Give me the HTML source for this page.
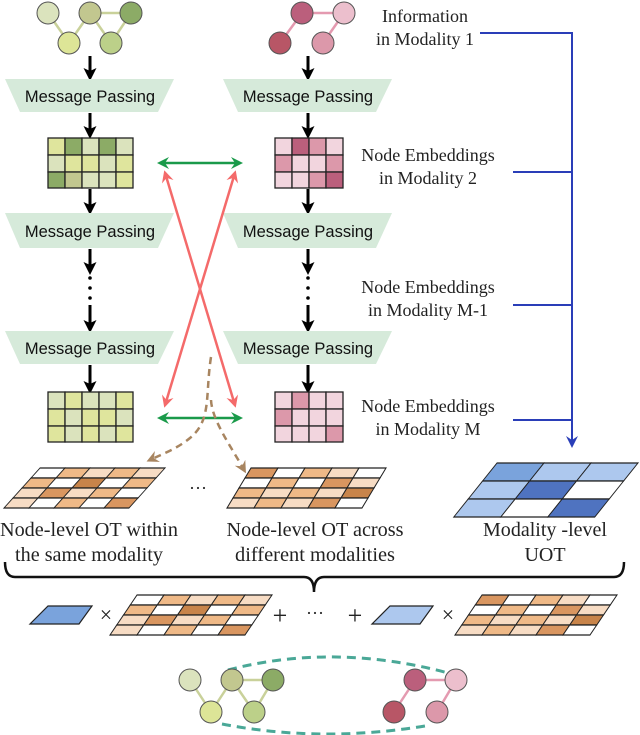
<!DOCTYPE html>
<html><head><meta charset="utf-8"><style>body{margin:0;background:#fff}svg{display:block}</style></head>
<body>
<svg width="640" height="735" viewBox="0 0 640 735" xmlns="http://www.w3.org/2000/svg">
<defs>
<marker id="ab" markerWidth="13" markerHeight="13" refX="6" refY="6.5" orient="auto" markerUnits="userSpaceOnUse" viewBox="0 0 13 13"><path d="M0,0 L13,6.5 L0,13 L3,6.5Z" fill="#000"/></marker>
<marker id="ag" markerWidth="12" markerHeight="12" refX="6" refY="6" orient="auto-start-reverse" markerUnits="userSpaceOnUse" viewBox="0 0 12 12"><path d="M0,0 L12,6 L0,12 L4,6Z" fill="#1a9a4a"/></marker>
<marker id="ar" markerWidth="12" markerHeight="12" refX="6" refY="6" orient="auto-start-reverse" markerUnits="userSpaceOnUse" viewBox="0 0 12 12"><path d="M0,0 L12,6 L0,12 L4,6Z" fill="#f46a6a"/></marker>
<marker id="abr" markerWidth="12" markerHeight="12" refX="6" refY="6" orient="auto" markerUnits="userSpaceOnUse" viewBox="0 0 12 12"><path d="M0,0 L12,6 L0,12 L4,6Z" fill="#a88560"/></marker>
<marker id="abl" markerWidth="12" markerHeight="12" refX="6" refY="6" orient="auto" markerUnits="userSpaceOnUse" viewBox="0 0 12 12"><path d="M0,0 L12,6 L0,12 L4,6Z" fill="#2a3eb8"/></marker>
</defs>

<g stroke-width="2.5">
<line x1="48" y1="13" x2="69" y2="43" stroke="#c9d19a"/><line x1="69" y1="43" x2="90" y2="13" stroke="#c9d19a"/>
<line x1="90" y1="13" x2="131" y2="13" stroke="#c9d19a"/><line x1="90" y1="13" x2="111" y2="43" stroke="#c9d19a"/><line x1="111" y1="43" x2="131" y2="13" stroke="#c9d19a"/>
<line x1="302" y1="13" x2="344" y2="13" stroke="#e49ab0"/><line x1="302" y1="13" x2="280" y2="43" stroke="#e49ab0"/><line x1="344" y1="13" x2="323" y2="43" stroke="#e49ab0"/>
</g>
<g stroke="#555" stroke-width="1">
<circle cx="48" cy="13" r="11" fill="#dbe3bd"/><circle cx="90" cy="13" r="11" fill="#c2c78f"/><circle cx="131" cy="13" r="11" fill="#8cab66"/>
<circle cx="69" cy="43" r="11" fill="#dde597"/><circle cx="111" cy="43" r="11" fill="#bcd089"/>
<circle cx="302" cy="13" r="11" fill="#bb5f7c"/><circle cx="344" cy="13" r="11" fill="#ecbfcd"/>
<circle cx="280" cy="43" r="11" fill="#b85666"/><circle cx="323" cy="43" r="11" fill="#dc98aa"/>
</g>

<g stroke="#000" stroke-width="3" marker-end="url(#ab)">
<line x1="90" y1="56" x2="90" y2="74"/><line x1="308" y1="56" x2="308" y2="74"/>
<line x1="90" y1="113" x2="90" y2="132"/><line x1="308" y1="113" x2="308" y2="132"/>
<line x1="90" y1="189" x2="90" y2="208"/><line x1="308" y1="189" x2="308" y2="208"/>
<line x1="90" y1="249" x2="90" y2="268"/><line x1="308" y1="249" x2="308" y2="268"/>
<line x1="90" y1="305" x2="90" y2="326"/><line x1="308" y1="305" x2="308" y2="326"/>
<line x1="90" y1="365" x2="90" y2="387"/><line x1="308" y1="365" x2="308" y2="387"/>
</g>
<g fill="#000"><circle cx="90" cy="278" r="1.8"/><circle cx="90" cy="288" r="1.8"/><circle cx="90" cy="298" r="1.8"/>
<circle cx="308" cy="278" r="1.8"/><circle cx="308" cy="288" r="1.8"/><circle cx="308" cy="298" r="1.8"/></g>

<g fill="#d6eada">
<polygon points="5,79 174,79 158,112 20,112"/><polygon points="223,79 392,79 376,112 238,112"/>
<polygon points="5,213 174,213 158,248 20,248"/><polygon points="223,213 392,213 376,248 238,248"/>
<polygon points="5,331 174,331 158,364 20,364"/><polygon points="223,331 392,331 376,364 238,364"/>
</g>
<g font-family="Liberation Sans, sans-serif" font-size="16.5" text-anchor="middle" fill="#111">
<text x="90" y="102">Message Passing</text><text x="308" y="102">Message Passing</text>
<text x="90" y="237">Message Passing</text><text x="308" y="237">Message Passing</text>
<text x="90" y="354">Message Passing</text><text x="308" y="354">Message Passing</text>
</g>

<g stroke="#222" stroke-width="1.3">
<g transform="translate(48,138)">
<rect x="0" y="0" width="17" height="17" fill="#dfe59d"/><rect x="17" y="0" width="17" height="17" fill="#8cab66"/><rect x="34" y="0" width="17" height="17" fill="#dbe3bd"/><rect x="51" y="0" width="17" height="17" fill="#8cab66"/><rect x="68" y="0" width="17" height="17" fill="#dbe3bd"/>
<rect x="0" y="17" width="17" height="17" fill="#dbe3bd"/><rect x="17" y="17" width="17" height="17" fill="#dfe59d"/><rect x="34" y="17" width="17" height="17" fill="#dfe59d"/><rect x="51" y="17" width="17" height="17" fill="#dbe3bd"/><rect x="68" y="17" width="17" height="17" fill="#dfe59d"/>
<rect x="0" y="34" width="17" height="16" fill="#8cab66"/><rect x="17" y="34" width="17" height="16" fill="#c2c78f"/><rect x="34" y="34" width="17" height="16" fill="#dbe3bd"/><rect x="51" y="34" width="17" height="16" fill="#dbe3bd"/><rect x="68" y="34" width="17" height="16" fill="#dfe59d"/>
</g>
<g transform="translate(48,392)">
<rect x="0" y="0" width="17" height="17" fill="#dbe3bd"/><rect x="17" y="0" width="17" height="17" fill="#dfe59d"/><rect x="34" y="0" width="17" height="17" fill="#dbe3bd"/><rect x="51" y="0" width="17" height="17" fill="#dbe3bd"/><rect x="68" y="0" width="17" height="17" fill="#dfe59d"/>
<rect x="0" y="17" width="17" height="17" fill="#dfe59d"/><rect x="17" y="17" width="17" height="17" fill="#dbe3bd"/><rect x="34" y="17" width="17" height="17" fill="#dfe59d"/><rect x="51" y="17" width="17" height="17" fill="#dfe59d"/><rect x="68" y="17" width="17" height="17" fill="#dbe3bd"/>
<rect x="0" y="34" width="17" height="16" fill="#dfe59d"/><rect x="17" y="34" width="17" height="16" fill="#dbe3bd"/><rect x="34" y="34" width="17" height="16" fill="#dfe59d"/><rect x="51" y="34" width="17" height="16" fill="#dbe3bd"/><rect x="68" y="34" width="17" height="16" fill="#dfe59d"/>
</g>
<g transform="translate(275,138)">
<rect x="0" y="0" width="17" height="17" fill="#f2d5de"/><rect x="17" y="0" width="17" height="17" fill="#bb5f7c"/><rect x="34" y="0" width="17" height="17" fill="#dc98aa"/><rect x="51" y="0" width="17" height="17" fill="#f2d5de"/>
<rect x="0" y="17" width="17" height="17" fill="#dc98aa"/><rect x="17" y="17" width="17" height="17" fill="#f2d5de"/><rect x="34" y="17" width="17" height="17" fill="#f2d5de"/><rect x="51" y="17" width="17" height="17" fill="#dc98aa"/>
<rect x="0" y="34" width="17" height="16" fill="#f2d5de"/><rect x="17" y="34" width="17" height="16" fill="#f2d5de"/><rect x="34" y="34" width="17" height="16" fill="#dc98aa"/><rect x="51" y="34" width="17" height="16" fill="#bb5f7c"/>
</g>
<g transform="translate(275,392)">
<rect x="0" y="0" width="17" height="17" fill="#f2d5de"/><rect x="17" y="0" width="17" height="17" fill="#dc98aa"/><rect x="34" y="0" width="17" height="17" fill="#f2d5de"/><rect x="51" y="0" width="17" height="17" fill="#f2d5de"/>
<rect x="0" y="17" width="17" height="17" fill="#dc98aa"/><rect x="17" y="17" width="17" height="17" fill="#f2d5de"/><rect x="34" y="17" width="17" height="17" fill="#f2d5de"/><rect x="51" y="17" width="17" height="17" fill="#f2d5de"/>
<rect x="0" y="34" width="17" height="16" fill="#f2d5de"/><rect x="17" y="34" width="17" height="16" fill="#f2d5de"/><rect x="34" y="34" width="17" height="16" fill="#f2d5de"/><rect x="51" y="34" width="17" height="16" fill="#dc98aa"/>
</g>
</g>

<g stroke-width="2.5">
<line x1="163" y1="163" x2="237" y2="163" stroke="#1a9a4a" marker-start="url(#ag)" marker-end="url(#ag)"/>
<line x1="163" y1="418" x2="237" y2="418" stroke="#1a9a4a" marker-start="url(#ag)" marker-end="url(#ag)"/>
<line x1="166" y1="176" x2="234" y2="402" stroke="#f46a6a" marker-start="url(#ar)" marker-end="url(#ar)"/>
<line x1="234" y1="176" x2="166" y2="402" stroke="#f46a6a" marker-start="url(#ar)" marker-end="url(#ar)"/>
</g>
<g stroke="#a88560" stroke-width="2.5" fill="none" stroke-dasharray="7,5">
<path d="M211,357 C205,395 212,420 190,438 C178,448 165,453 152,459" marker-end="url(#abr)"/>
<path d="M211,400 C212,420 230,445 243,468" marker-end="url(#abr)"/>
</g>

<g font-family="Liberation Serif, serif" font-size="18" text-anchor="middle" fill="#222">
<text x="425" y="22">Information</text><text x="425" y="45">in Modality 1</text>
<text x="428" y="161">Node Embeddings</text><text x="428" y="184">in Modality 2</text>
<text x="428" y="293">Node Embeddings</text><text x="428" y="316">in Modality M-1</text>
<text x="428" y="412">Node Embeddings</text><text x="428" y="435">in Modality M</text>
</g>
<g stroke="#2a3eb8" stroke-width="2" fill="none">
<polyline points="480,33 572,33 572,442" marker-end="url(#abl)"/>
<line x1="513" y1="172" x2="572" y2="172"/><line x1="513" y1="305" x2="572" y2="305"/><line x1="513" y1="420" x2="572" y2="420"/>
</g>

<g stroke="#222" stroke-width="1.2">
<g transform="translate(4,468) matrix(1,0,-0.9,1,36,0)">
<rect x="0" y="0" width="25" height="10" fill="#fff"/><rect x="25" y="0" width="25" height="10" fill="#efb987"/><rect x="50" y="0" width="25" height="10" fill="#f7dcc4"/><rect x="75" y="0" width="25" height="10" fill="#efb987"/><rect x="100" y="0" width="25" height="10" fill="#f7dcc4"/>
<rect x="0" y="10" width="25" height="10" fill="#efb987"/><rect x="25" y="10" width="25" height="10" fill="#fff"/><rect x="50" y="10" width="25" height="10" fill="#c8844a"/><rect x="75" y="10" width="25" height="10" fill="#fff"/><rect x="100" y="10" width="25" height="10" fill="#efb987"/>
<rect x="0" y="20" width="25" height="10" fill="#f7dcc4"/><rect x="25" y="20" width="25" height="10" fill="#d99660"/><rect x="50" y="20" width="25" height="10" fill="#f7dcc4"/><rect x="75" y="20" width="25" height="10" fill="#efb987"/><rect x="100" y="20" width="25" height="10" fill="#fff"/>
<rect x="0" y="30" width="25" height="10" fill="#f7dcc4"/><rect x="25" y="30" width="25" height="10" fill="#fff"/><rect x="50" y="30" width="25" height="10" fill="#efb987"/><rect x="75" y="30" width="25" height="10" fill="#fff"/><rect x="100" y="30" width="25" height="10" fill="#d99660"/>
</g>
<g transform="translate(227,468) matrix(1,0,-0.6,1,24,0)">
<rect x="0" y="0" width="27" height="10" fill="#d99660"/><rect x="27" y="0" width="27" height="10" fill="#fff"/><rect x="54" y="0" width="27" height="10" fill="#efb987"/><rect x="81" y="0" width="27" height="10" fill="#f7dcc4"/><rect x="108" y="0" width="27" height="10" fill="#fff"/>
<rect x="0" y="10" width="27" height="10" fill="#fff"/><rect x="27" y="10" width="27" height="10" fill="#efb987"/><rect x="54" y="10" width="27" height="10" fill="#fff"/><rect x="81" y="10" width="27" height="10" fill="#d99660"/><rect x="108" y="10" width="27" height="10" fill="#f7dcc4"/>
<rect x="0" y="20" width="27" height="10" fill="#efb987"/><rect x="27" y="20" width="27" height="10" fill="#f7dcc4"/><rect x="54" y="20" width="27" height="10" fill="#efb987"/><rect x="81" y="20" width="27" height="10" fill="#f7dcc4"/><rect x="108" y="20" width="27" height="10" fill="#c8844a"/>
<rect x="0" y="30" width="27" height="10" fill="#f7dcc4"/><rect x="27" y="30" width="27" height="10" fill="#efb987"/><rect x="54" y="30" width="27" height="10" fill="#f7dcc4"/><rect x="81" y="30" width="27" height="10" fill="#d99660"/><rect x="108" y="30" width="27" height="10" fill="#fff"/>
</g>
<g transform="translate(454,463) matrix(1,0,-0.8,1,43,0)">
<rect x="0" y="0" width="47" height="18" fill="#7aa3dc"/><rect x="47" y="0" width="47" height="18" fill="#adc8ee"/><rect x="94" y="0" width="47" height="18" fill="#adc8ee"/>
<rect x="0" y="18" width="47" height="18" fill="#adc8ee"/><rect x="47" y="18" width="47" height="18" fill="#4f73c0"/><rect x="94" y="18" width="47" height="18" fill="#fff"/>
<rect x="0" y="36" width="47" height="18" fill="#adc8ee"/><rect x="47" y="36" width="47" height="18" fill="#fff"/><rect x="94" y="36" width="47" height="18" fill="#4f73c0"/>
</g>
<g transform="translate(110,595) matrix(1,0,-0.675,1,27,0)">
<rect x="0" y="0" width="27" height="10" fill="#fff"/><rect x="27" y="0" width="27" height="10" fill="#efb987"/><rect x="54" y="0" width="27" height="10" fill="#f7dcc4"/><rect x="81" y="0" width="27" height="10" fill="#efb987"/><rect x="108" y="0" width="27" height="10" fill="#f7dcc4"/>
<rect x="0" y="10" width="27" height="10" fill="#efb987"/><rect x="27" y="10" width="27" height="10" fill="#fff"/><rect x="54" y="10" width="27" height="10" fill="#c8844a"/><rect x="81" y="10" width="27" height="10" fill="#fff"/><rect x="108" y="10" width="27" height="10" fill="#efb987"/>
<rect x="0" y="20" width="27" height="10" fill="#f7dcc4"/><rect x="27" y="20" width="27" height="10" fill="#d99660"/><rect x="54" y="20" width="27" height="10" fill="#f7dcc4"/><rect x="81" y="20" width="27" height="10" fill="#efb987"/><rect x="108" y="20" width="27" height="10" fill="#fff"/>
<rect x="0" y="30" width="27" height="10" fill="#f7dcc4"/><rect x="27" y="30" width="27" height="10" fill="#fff"/><rect x="54" y="30" width="27" height="10" fill="#efb987"/><rect x="81" y="30" width="27" height="10" fill="#fff"/><rect x="108" y="30" width="27" height="10" fill="#d99660"/>
</g>
<g transform="translate(455,595) matrix(1,0,-0.675,1,27,0)">
<rect x="0" y="0" width="27" height="10" fill="#d99660"/><rect x="27" y="0" width="27" height="10" fill="#fff"/><rect x="54" y="0" width="27" height="10" fill="#efb987"/><rect x="81" y="0" width="27" height="10" fill="#f7dcc4"/><rect x="108" y="0" width="27" height="10" fill="#fff"/>
<rect x="0" y="10" width="27" height="10" fill="#fff"/><rect x="27" y="10" width="27" height="10" fill="#efb987"/><rect x="54" y="10" width="27" height="10" fill="#fff"/><rect x="81" y="10" width="27" height="10" fill="#d99660"/><rect x="108" y="10" width="27" height="10" fill="#f7dcc4"/>
<rect x="0" y="20" width="27" height="10" fill="#efb987"/><rect x="27" y="20" width="27" height="10" fill="#f7dcc4"/><rect x="54" y="20" width="27" height="10" fill="#efb987"/><rect x="81" y="20" width="27" height="10" fill="#f7dcc4"/><rect x="108" y="20" width="27" height="10" fill="#c8844a"/>
<rect x="0" y="30" width="27" height="10" fill="#f7dcc4"/><rect x="27" y="30" width="27" height="10" fill="#efb987"/><rect x="54" y="30" width="27" height="10" fill="#f7dcc4"/><rect x="81" y="30" width="27" height="10" fill="#d99660"/><rect x="108" y="30" width="27" height="10" fill="#fff"/>
</g>
<polygon points="48,606 92,606 79,624 30,624" fill="#7aa3dc"/>
<polygon points="390,606 433,606 420,624 372,624" fill="#adc8ee"/>
</g>

<g font-family="Liberation Serif, serif" fill="#222" text-anchor="middle">
<text x="198" y="494" font-size="18">···</text>
<text x="89" y="536" font-size="20" textLength="178" lengthAdjust="spacingAndGlyphs">Node-level OT within</text>
<text x="89" y="561" font-size="20" textLength="148" lengthAdjust="spacingAndGlyphs">the same modality</text>
<text x="315" y="536" font-size="20" textLength="177" lengthAdjust="spacingAndGlyphs">Node-level OT across</text>
<text x="315" y="561" font-size="20" textLength="160" lengthAdjust="spacingAndGlyphs">different modalities</text>
<text x="545" y="536" font-size="20" textLength="124" lengthAdjust="spacingAndGlyphs">Modality -level</text>
<text x="545" y="561" font-size="20">UOT</text>
<text x="106" y="622" font-size="22">×</text>
<text x="448" y="622" font-size="22">×</text>
<text x="280" y="624" font-size="26">+</text>
<text x="315" y="619" font-size="18">···</text>
<text x="355" y="624" font-size="26">+</text>
</g>

<path d="M5,562 Q5,577 15,577 L304,577 Q314,577 314,592 Q314,577 324,577 L614,577 Q624,577 624,562" fill="none" stroke="#111" stroke-width="2.5"/>

<g fill="none" stroke="#4aa897" stroke-width="3" stroke-dasharray="9,6">
<path d="M228,670 Q335,642 452,674"/>
<path d="M222,724 Q320,743 425,726"/>
</g>
<g stroke-width="2.5">
<line x1="190" y1="680" x2="211" y2="712" stroke="#c9d19a"/><line x1="211" y1="712" x2="232" y2="680" stroke="#c9d19a"/>
<line x1="232" y1="680" x2="273" y2="680" stroke="#c9d19a"/><line x1="232" y1="680" x2="254" y2="712" stroke="#c9d19a"/><line x1="254" y1="712" x2="273" y2="680" stroke="#c9d19a"/>
<line x1="415" y1="680" x2="456" y2="680" stroke="#e49ab0"/><line x1="415" y1="680" x2="394" y2="712" stroke="#e49ab0"/><line x1="456" y1="680" x2="437" y2="712" stroke="#e49ab0"/>
</g>
<g stroke="#555" stroke-width="1">
<circle cx="190" cy="680" r="11" fill="#dbe3bd"/><circle cx="232" cy="680" r="11" fill="#c2c78f"/><circle cx="273" cy="680" r="11" fill="#8cab66"/>
<circle cx="211" cy="712" r="11" fill="#dde597"/><circle cx="254" cy="712" r="11" fill="#bcd089"/>
<circle cx="415" cy="680" r="11" fill="#bb5f7c"/><circle cx="456" cy="680" r="11" fill="#ecbfcd"/>
<circle cx="394" cy="712" r="11" fill="#b85666"/><circle cx="437" cy="712" r="11" fill="#dc98aa"/>
</g>
</svg>
</body></html>
